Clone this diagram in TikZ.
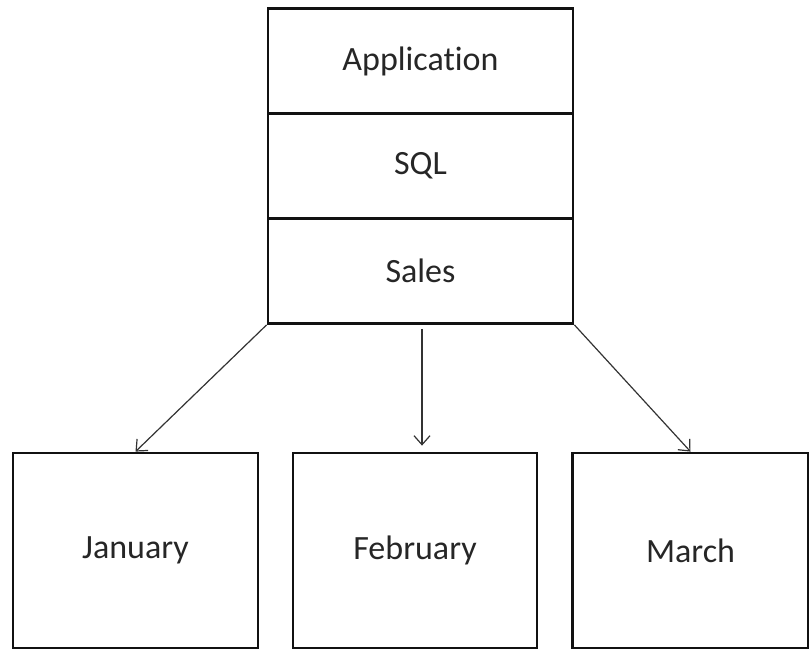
\documentclass[tikz,border=0pt]{standalone}
\usepackage{fontspec}
\setmainfont{Carlito}[Ligatures={NoCommon,NoRare}]
\usetikzlibrary{arrows.meta}
\definecolor{boxline}{HTML}{111111}
\definecolor{arrowline}{HTML}{333333}
\definecolor{labeltext}{HTML}{262626}

\begin{document}
\begin{tikzpicture}[
            x=1pt, y=-1pt,
            layer/.style={rectangle, draw=boxline, line width=2.8pt, minimum width=305pt, minimum height=105pt, font=\fontsize{34}{40}\selectfont, text=labeltext, inner sep=0pt},
            month/.style={rectangle, draw=boxline, line width=2.8pt, minimum height=195pt, font=\fontsize{34}{40}\selectfont, text=labeltext, inner sep=0pt},
            link/.style={-{Straight Barb[length=9pt, width=16pt]}, draw=arrowline, line width=1.2pt}
        ]
            \useasboundingbox (0,0) rectangle (809,651);

            % stack
            \node[layer] (app) at (420.5,61) {Application};
            \node[layer] (sql) at (420.5,166) {SQL};
            \node[layer] (sales) at (420.5,271) {Sales};

            % months
            \node[month, minimum width=245pt] (jan) at (135.5,550.5) {January};
            \node[month, minimum width=244pt] (feb) at (415,550.5) {February};
            \node[month, minimum width=236pt] (mar) at (690.5,550.5) {March};

            \draw[link] (sales.south west) -- (jan.north);
            \draw[link, shorten <=4pt, shorten >=6pt] ([xshift=1.5pt]sales.south) -- ([xshift=1.5pt]sales.south |- feb.north);
            \draw[link] (sales.south east) -- (mar.north);
        \end{tikzpicture}
\end{document}
